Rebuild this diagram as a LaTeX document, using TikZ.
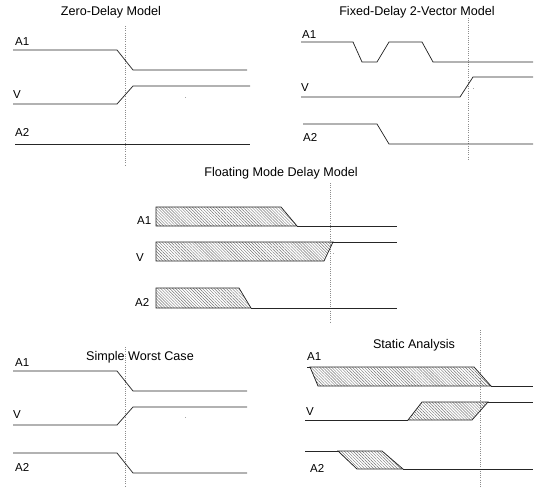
\documentclass[tikz,border=0pt]{standalone}
\usepackage{fontspec}
\setmainfont{Liberation Sans}
\usetikzlibrary{patterns.meta}
\begin{document}
\begin{tikzpicture}[x=1pt,y=-1pt,
  wave/.style={line width=0.75pt,black!85},
  hatch/.style={pattern={Lines[angle=-45,distance=2.1pt,line width=0.45pt]},pattern color=black!55},
  marker/.style={line width=0.6pt,black!45,dash pattern=on 1pt off 1.2pt},
  title/.style={font=\fontsize{12.6}{14}\selectfont,inner sep=0pt},
  sig/.style={font=\fontsize{11.5}{13}\selectfont,inner sep=0pt,anchor=west},
  speck/.style={fill=black!35,draw=none}]
\useasboundingbox (0,0) rectangle (534,487);
% ---------- Zero-Delay Model ----------
\node[title] (t1) at (111,12) {Zero-Delay Model};
\draw[marker] (125,26) -- (125,166);
\node[sig] (z1) at (15,42) {A1};
\node[sig] (zv) at (13,95) {V};
\node[sig] (z2) at (15,132) {A2};
\draw[wave] (13,50) -- (117,50) -- (133,70) -- (247,70);
\draw[wave] (13,104) -- (117,104) -- (133,86) -- (250,86);
\draw[wave] (15,144) -- (250,144);
\fill[speck] (184.5,96.5) rectangle +(1,1);
% ---------- Fixed-Delay 2-Vector Model ----------
\node[title] (t2) at (417,12) {Fixed-Delay 2-Vector Model};
\draw[marker] (468,18) -- (468,160);
\node[sig] (f1) at (302,35) {A1};
\node[sig] (fv) at (301,88) {V};
\node[sig] (f2) at (303,137) {A2};
\draw[wave] (301,42) -- (353,42) -- (362,62) -- (377,62) -- (389,42) -- (422,42) -- (433,62) -- (533,62);
\draw[wave] (301,97) -- (460,97) -- (473,77) -- (533,77);
\draw[wave] (303,124) -- (377,124) -- (389,144) -- (533,144);
\fill[speck] (472.5,88) rectangle +(1,1);
% ---------- Floating Mode Delay Model ----------
\node[title] (t3) at (281,173) {Floating Mode Delay Model};
\draw[marker] (330,183) -- (330,323);
\node[sig] (g1) at (137,221) {A1};
\node[sig] (gv) at (136,258) {V};
\node[sig] (g2) at (135,302) {A2};
\filldraw[wave,hatch] (156,207) -- (281,207) -- (297,226) -- (156,226) -- cycle;
\draw[wave] (297,226) -- (397,226);
\filldraw[wave,hatch] (156,242) -- (333,242) -- (324,261) -- (156,261) -- cycle;
\draw[wave] (333,242) -- (397,242);
\filldraw[wave,hatch] (156,288) -- (239,288) -- (251,308) -- (156,308) -- cycle;
\draw[wave] (251,308) -- (397,308);
\fill[speck] (333,252.5) rectangle +(1,1);
% ---------- Simple Worst Case ----------
\node[title] (t4) at (140,357) {Simple Worst Case};
\draw[marker] (125,347) -- (125,487);
\node[sig] (s1) at (15,363) {A1};
\node[sig] (sv) at (13,415) {V};
\node[sig] (s2) at (15,467) {A2};
\draw[wave] (13,371) -- (117,371) -- (133,391) -- (247,391);
\draw[wave] (13,425) -- (117,425) -- (133,407) -- (247,407);
\draw[wave] (13,453) -- (117,453) -- (133,473) -- (247,473);
\fill[speck] (184.5,417) rectangle +(1,1);
% ---------- Static Analysis ----------
\node[title] (t5) at (414,345) {Static Analysis};
\draw[marker] (480,330) -- (480,487);
\node[sig] (a1) at (307,357) {A1};
\node[sig] (av) at (306,412) {V};
\node[sig] (a2) at (310,468) {A2};
\filldraw[wave,hatch] (310,367) -- (474,367) -- (491,386) -- (318,386) -- cycle;
\draw[wave] (307,367) -- (310,367);
\draw[wave] (491,386) -- (533,386);
\draw[wave] (305,420) -- (408,420);
\filldraw[wave,hatch] (408,420) -- (422,402) -- (488,402) -- (472,420) -- cycle;
\draw[wave] (488,402) -- (533,402);
\draw[wave] (305,451) -- (338,451);
\filldraw[wave,hatch] (338,451) -- (382,451) -- (403,469) -- (357,469) -- cycle;
\draw[wave] (403,469) -- (533,469);
\end{tikzpicture}
\end{document}
